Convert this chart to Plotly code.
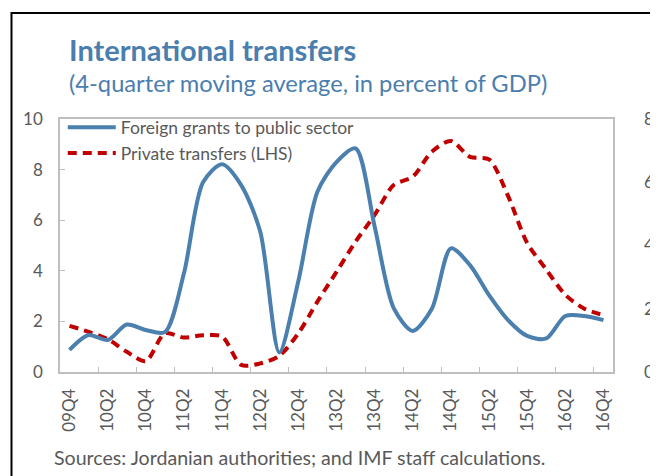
import plotly.graph_objects as go

quarters = ["09Q4",
            "10Q1", "10Q2", "10Q3", "10Q4",
            "11Q1", "11Q2", "11Q3", "11Q4",
            "12Q1", "12Q2", "12Q3", "12Q4",
            "13Q1", "13Q2", "13Q3", "13Q4",
            "14Q1", "14Q2", "14Q3", "14Q4",
            "15Q1", "15Q2", "15Q3", "15Q4",
            "16Q1", "16Q2", "16Q3", "16Q4"]

# Foreign grants to public sector (right-hand scale, 0-8)
foreign_grants = [0.70, 1.17, 1.01, 1.50, 1.33, 1.26, 3.12, 6.00, 6.57, 5.91,
                  4.44, 0.62, 2.88, 5.70, 6.64, 7.07, 4.60, 2.02, 1.30, 2.00,
                  3.91, 3.38, 2.43, 1.64, 1.14, 1.06, 1.77, 1.77, 1.64]

# Private transfers (left-hand scale, 0-10)
private_transfers = [1.82, 1.59, 1.30, 0.80, 0.43, 1.53, 1.36, 1.45, 1.40, 0.28,
                     0.34, 0.64, 1.53, 2.78, 3.96, 5.15, 6.21, 7.39, 7.72, 8.71,
                     9.13, 8.50, 8.40, 6.95, 5.10, 4.05, 3.05, 2.50, 2.25]

tick_labels = quarters[::2]

TEXT = "#595959"
FONT = "Lato"

fig = go.Figure()
fig.add_trace(go.Scatter(
    x=quarters, y=foreign_grants, name="Foreign grants to public sector",
    mode="lines", yaxis="y2",
    line=dict(color="#4a7fae", width=4, shape="spline", smoothing=0.8),
))
fig.add_trace(go.Scatter(
    x=quarters, y=private_transfers, name="Private transfers (LHS)",
    mode="lines", yaxis="y",
    line=dict(color="#c00000", width=4, dash="9px,6px", shape="spline", smoothing=0.8),
))

fig.update_layout(
    width=658, height=476,
    margin=dict(l=52, r=36, t=111, b=112),
    paper_bgcolor="white", plot_bgcolor="white",
    font=dict(family=FONT, color=TEXT, size=15),
    showlegend=True,
    legend=dict(x=0.005, y=1.038, xanchor="left", yanchor="top",
                bgcolor="rgba(0,0,0,0)",
                font=dict(size=17.5, color=TEXT, family=FONT),
                tracegroupgap=0, itemwidth=48),
    xaxis=dict(
        type="category", categoryorder="array", categoryarray=quarters,
        tickmode="array", tickvals=tick_labels, ticktext=tick_labels,
        tickson="boundaries", ticks="inside", ticklen=5, tickcolor="#bfbfbf",
        tickangle=-90, tickfont=dict(size=17, color=TEXT),
        showline=True, linecolor="#bfbfbf", linewidth=1.5, mirror=True,
        showgrid=False, zeroline=False, range=[-0.5, 28.5],
        ticklabelstandoff=8,
    ),
    yaxis=dict(
        range=[0, 10], dtick=2, tick0=0,
        ticks="inside", ticklen=5, tickcolor="#bfbfbf",
        tickfont=dict(size=17, color=TEXT),
        showline=True, linecolor="#bfbfbf", linewidth=1.5, mirror=True,
        showgrid=False, zeroline=False, ticklabelstandoff=12,
    ),
    yaxis2=dict(
        range=[0, 8], dtick=2, tick0=0, overlaying="y", side="right",
        ticks="", tickfont=dict(size=17, color=TEXT),
        showline=False, showgrid=False, zeroline=False, ticklabelstandoff=30,
    ),
)

# Title and subtitle
fig.add_annotation(text="<b>International transfers</b>", xref="paper", yref="paper",
                   x=(67 - 60) / 570, y=(372 - 49) / 253, xanchor="left", yanchor="middle",
                   showarrow=False, font=dict(size=29, color="#4a7eae", family=FONT))
fig.add_annotation(text="(4-quarter moving average, in percent of GDP)", xref="paper", yref="paper",
                   x=(67 - 60) / 570, y=(372 - 83) / 253, xanchor="left", yanchor="middle",
                   showarrow=False, font=dict(size=23.7, color="#4a7eae", family=FONT))
# Source note
fig.add_annotation(text="Sources: Jordanian authorities; and IMF staff calculations.",
                   xref="paper", yref="paper",
                   x=(52 - 60) / 570, y=(372 - 457) / 253, xanchor="left", yanchor="middle",
                   showarrow=False, font=dict(size=19.6, color=TEXT, family=FONT))

# Outer black frame (extends beyond the visible area on right and bottom)
fig.add_shape(type="rect", xref="paper", yref="paper",
              x0=(10 - 60) / 570, x1=(720 - 60) / 570,
              y0=(372 - 540) / 253, y1=(372 - 13) / 253,
              line=dict(color="black", width=2), fillcolor="rgba(0,0,0,0)", layer="above")

fig.write_html("out.html")
